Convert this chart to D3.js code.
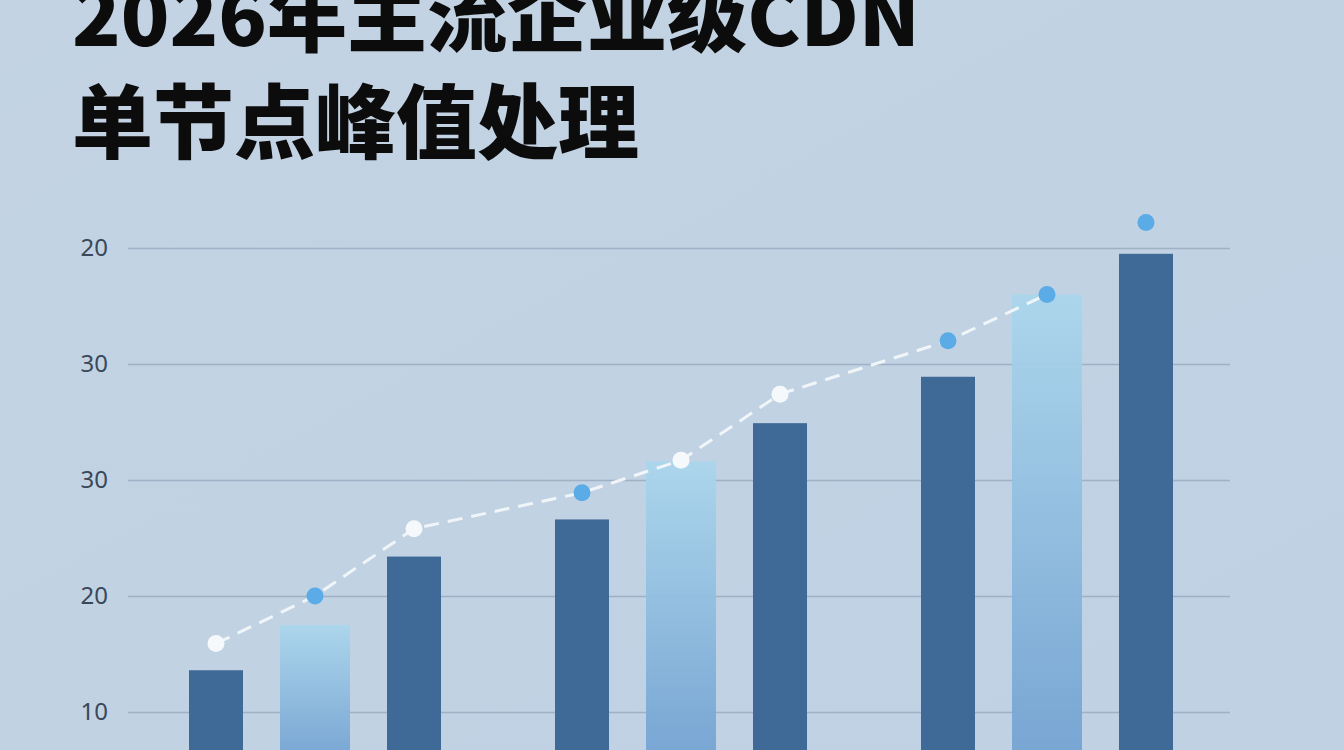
<!DOCTYPE html>
<html>
<head>
<meta charset="utf-8" />
<title>2026年主流企业级CDN单节点峰值处理</title>
<script src="https://d3js.org/d3.v7.min.js"></script>
<style>
  html, body { margin: 0; padding: 0; background: #c1d2e3; overflow: hidden; }
  .title { font-family: "Noto Sans CJK SC", sans-serif; font-weight: 900; fill: #0c0c0c; }
  .y.axis text { font-family: "Noto Sans", "DejaVu Sans", sans-serif; font-size: 24px; fill: #3a4857; }
  .y.axis path { display: none; }
  .y.axis line { stroke: #9fb1c5; stroke-width: 1.6; }
</style>
</head>
<body>
<div id="chart"></div>
<script>
// data
var groups = ["组一", "组二", "组三"];
var slots = ["A", "B", "C"];
var categories = ["1A", "1B", "1C", "2A", "2B", "2C", "3A", "3B", "3C"];
var barValues = [13.6, 17.5, 23.4, 26.6, 31.6, 34.9, 38.9, 46.0, 49.5];
var pointValues = [15.9, 20.0, 25.8, 28.9, 31.7, 37.4, 42.0, 46.0, 52.2];
var pointSeries = ["实测", "预测", "实测", "预测", "实测", "实测", "预测", "预测", "预测"];
var tickValues = [10, 20, 30, 40, 50];
var tickLabels = ["10", "20", "30", "30", "20"];
var titleLines = ["2026年主流企业级CDN", "单节点峰值处理"];

var W = 1344, H = 750;
var svg = d3.select("#chart").append("svg")
    .attr("width", W).attr("height", H);

var defs = svg.append("defs");
var grad = defs.append("linearGradient")
    .attr("id", "lightBar").attr("x1", 0).attr("y1", 0).attr("x2", 0).attr("y2", 1);
grad.append("stop").attr("offset", "0%").attr("stop-color", "#abd6ec");
grad.append("stop").attr("offset", "100%").attr("stop-color", "#74a3d2");

var bg = defs.append("linearGradient")
    .attr("id", "bg").attr("x1", 0).attr("y1", 0).attr("x2", 1).attr("y2", 1);
bg.append("stop").attr("offset", "0%").attr("stop-color", "#c3d3e3");
bg.append("stop").attr("offset", "100%").attr("stop-color", "#bfd1e3");
svg.append("rect").attr("width", W).attr("height", H).attr("fill", "url(#bg)");

// title (first line runs off the top edge, as in the source)
svg.append("g").selectAll("text")
    .data(titleLines)
    .enter().append("text")
    .attr("class", "title")
    .attr("x", 72)
    .attr("y", function (d, i) { return 46 + i * 106; })
    .style("font-size", function (d, i) { return i === 0 ? "78px" : "81px"; })
    .attr("textLength", function (d, i) { return i === 0 ? 848 : null; })
    .attr("lengthAdjust", "spacingAndGlyphs")
    .text(function (d) { return d; });

// scales
var y = d3.scaleLinear().domain([10, 50]).range([712, 248]);

var x0 = d3.scaleBand().domain(groups).range([166.5, 1195.5])
    .paddingInner(0.1885).paddingOuter(0);
var x1 = d3.scaleBand().domain(slots).range([0, x0.bandwidth()]).padding(0);

function barX(i) { return x0(groups[Math.floor(i / 3)]) + x1(slots[i % 3]); }
function barW(i) { return i % 3 === 1 ? 70 : 54; }
function cx(i) { return barX(i) + x1.bandwidth() / 2; }

// y axis with gridlines
var yAxis = d3.axisLeft(y)
    .tickValues(tickValues)
    .tickSize(-(1230 - 128))
    .tickPadding(20)
    .tickFormat(function (d, i) { return tickLabels[i]; });

svg.append("g")
    .attr("class", "y axis")
    .attr("transform", "translate(128,0)")
    .call(yAxis);

// bars
var rows = categories.map(function (c, i) {
    return { name: c, value: barValues[i], point: pointValues[i], series: pointSeries[i], i: i };
});

svg.append("g").selectAll("rect")
    .data(rows)
    .enter().append("rect")
    .attr("x", function (d) { return cx(d.i) - barW(d.i) / 2; })
    .attr("width", function (d) { return barW(d.i); })
    .attr("y", function (d) { return y(d.value); })
    .attr("height", function (d) { return H + 10 - y(d.value); })
    .attr("fill", function (d) { return d.i % 3 === 1 ? "url(#lightBar)" : "#3f6a98"; })
    .attr("opacity", function (d) { return d.i % 3 === 1 ? 0.95 : 1; });

// dashed trend line through the first eight points
var line = d3.line()
    .x(function (d) { return cx(d.i); })
    .y(function (d) { return y(d.point); });

svg.append("path")
    .datum(rows.slice(0, 8))
    .attr("d", line)
    .attr("fill", "none")
    .attr("stroke", "#f4f7fa")
    .attr("stroke-width", 3)
    .attr("stroke-dasharray", "15 9")
    .attr("opacity", 0.92);

var dotColor = d3.scaleOrdinal().domain(["实测", "预测"]).range(["#f6f9fc", "#5babe6"]);

svg.append("g").selectAll("circle")
    .data(rows)
    .enter().append("circle")
    .attr("cx", function (d) { return cx(d.i); })
    .attr("cy", function (d) { return y(d.point); })
    .attr("r", 8.5)
    .attr("fill", function (d) { return dotColor(d.series); });
</script>
</body>
</html>
